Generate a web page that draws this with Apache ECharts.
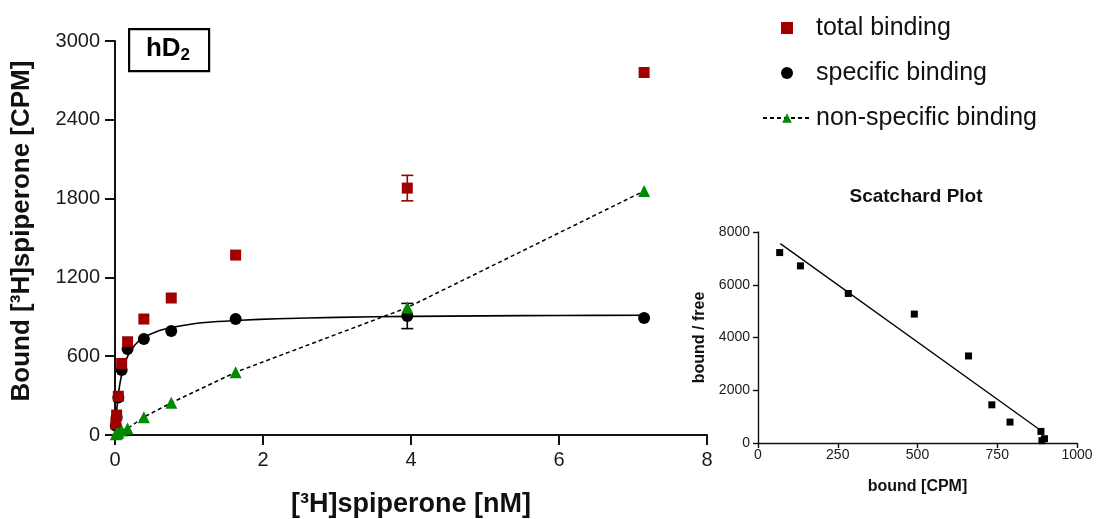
<!DOCTYPE html>
<html><head><meta charset="utf-8">
<script src="https://cdn.jsdelivr.net/npm/echarts@6/dist/echarts.min.js"></script>
<style>html,body{margin:0;padding:0;background:#fff}#c{width:1097px;height:519px}</style>
</head><body><div id="c"></div>
<script>
// ---- main saturation plot data ----
const conc        = [0.011, 0.022, 0.045, 0.09, 0.17, 0.39, 0.76, 1.63, 3.95, 7.15];
const total       = [85, 152, 295, 545, 710, 883, 1043, 1370, 1880, 2760];
const specific    = [70, 135, 285, 495, 655, 731, 792, 883, 906, 890];
const nonspecific = [5, 10, 18, 35, 50, 136, 245, 478, 970, 1858];
const totalErr    = [0, 0, 0, 0, 0, 0, 0, 0, 97, 0];
const specificErr = [0, 0, 0, 0, 0, 0, 0, 0, 96, 0];
// fitted one-site curve for specific binding
const fitX = [0, 0.01, 0.02, 0.04, 0.06, 0.08, 0.1, 0.13, 0.17, 0.22, 0.3, 0.4, 0.55, 0.75, 1.0, 1.3, 1.7, 2.2, 3, 4, 5, 6, 7.15];
const fitY = [0, 90, 168, 285, 368, 432, 482, 540, 598, 648, 704, 745, 785, 816, 842, 860, 874, 885, 896, 903, 907, 910, 912];
const xTicks = [0, 2, 4, 6, 8];
const yTicks = [0, 600, 1200, 1800, 2400, 3000];

// ---- Scatchard inset data ----
const scatBound = [68, 133, 283, 490, 660, 733, 790, 887, 890, 898];
const scatRatio = [7220, 6715, 5670, 4888, 3300, 1448, 794, 439, 87, 163];
const scatFitX  = [70, 880];
const scatFitY  = [7560, 530];
const scatXTicks = [0, 250, 500, 750, 1000];
const scatYTicks = [0, 2000, 4000, 6000, 8000];

const RED = '#A00000', GREEN = '#008A00', INK = '#111111';
const FONT = 'Arial, "Liberation Sans", Helvetica, sans-serif';

const pairs = (xs, ys) => xs.map((x, i) => [x, ys[i]]);
const errData = (vals, errs) => conc.map((x, i) => [x, vals[i] - errs[i], vals[i] + errs[i], errs[i]]).filter(d => d[3] > 0);

function errRender(color) {
  return function (params, api) {
    const x = api.value(0), lo = api.value(1), hi = api.value(2);
    const a = api.coord([x, lo]), b = api.coord([x, hi]);
    const hw = 6, st = { stroke: color, lineWidth: 1.6 };
    return { type: 'group', children: [
      { type: 'line', shape: { x1: a[0], y1: a[1], x2: b[0], y2: b[1] }, style: st },
      { type: 'line', shape: { x1: a[0] - hw, y1: a[1], x2: a[0] + hw, y2: a[1] }, style: st },
      { type: 'line', shape: { x1: b[0] - hw, y1: b[1], x2: b[0] + hw, y2: b[1] }, style: st }
    ]};
  };
}

const axisCommon = (w, tickLen, fs, margin) => ({
  axisLine: { show: true, onZero: false, lineStyle: { color: INK, width: w } },
  axisTick: { show: true, length: tickLen, lineStyle: { color: INK, width: w } },
  axisLabel: { color: '#1a1a1a', fontSize: fs, fontFamily: FONT, margin: margin, formatter: v => String(v) },
  splitLine: { show: false }
});

const chart = echarts.init(document.getElementById('c'), null, { renderer: 'canvas' });
chart.setOption({
  animation: false,
  backgroundColor: '#fff',
  textStyle: { fontFamily: FONT },
  grid: [
    { left: 115, top: 41, width: 592, height: 394, containLabel: false, outerBoundsMode: 'none' },
    { left: 758, top: 232, width: 319, height: 211, containLabel: false, outerBoundsMode: 'none' }
  ],
  xAxis: [
    Object.assign(axisCommon(2, 10, 20, 15), {
      type: 'value', gridIndex: 0, min: xTicks[0], max: xTicks[xTicks.length - 1], interval: xTicks[1] - xTicks[0],
      name: '[³H]spiperone [nM]', nameLocation: 'middle', nameGap: 56,
      nameTextStyle: { fontSize: 27, fontWeight: 'bold', color: INK, fontFamily: FONT }
    }),
    Object.assign(axisCommon(1.4, 5, 14, 5), {
      type: 'value', gridIndex: 1, min: scatXTicks[0], max: scatXTicks[scatXTicks.length - 1], interval: scatXTicks[1] - scatXTicks[0],
      name: 'bound [CPM]', nameLocation: 'middle', nameGap: 36,
      nameTextStyle: { fontSize: 16, fontWeight: 'bold', color: INK, fontFamily: FONT }
    })
  ],
  yAxis: [
    Object.assign(axisCommon(2, 10, 20, 15), {
      type: 'value', gridIndex: 0, min: yTicks[0], max: yTicks[yTicks.length - 1], interval: yTicks[1] - yTicks[0],
      name: 'Bound [³H]spiperone [CPM]', nameLocation: 'middle', nameGap: 80,
      nameTextStyle: { fontSize: 26, fontWeight: 'bold', color: INK, fontFamily: FONT, padding: [0, 0, 0, 14] }
    }),
    Object.assign(axisCommon(1.4, 5, 14, 8), {
      type: 'value', gridIndex: 1, min: scatYTicks[0], max: scatYTicks[scatYTicks.length - 1], interval: scatYTicks[1] - scatYTicks[0],
      name: 'bound / free', nameLocation: 'middle', nameGap: 50,
      nameTextStyle: { fontSize: 16, fontWeight: 'bold', color: INK, fontFamily: FONT }
    })
  ],
  legend: {
    data: [
      { name: 'total binding', icon: 'path://M0,0H10V10H0Z' },
      { name: 'specific binding' },
      { name: 'non-specific binding' }
    ],
    orient: 'vertical', left: 757, top: 10,
    itemWidth: 48, itemHeight: 12, itemGap: 19,
    textStyle: { fontSize: 25, color: INK, fontFamily: FONT, lineHeight: 26 },
    selectedMode: false
  },
  graphic: [
    { type: 'rect', left: 128, top: 28, shape: { width: 80, height: 42 },
      style: { fill: '#fff', stroke: '#000', lineWidth: 2.2 }, z: 10 },
    { type: 'text', x: 168, y: 49, z: 11,
      style: { text: '{a|hD}{b|2}', align: 'center', verticalAlign: 'middle',
        rich: { a: { fontSize: 26, fontWeight: 'bold', fontFamily: FONT, fill: '#000' },
                b: { fontSize: 17, fontWeight: 'bold', fontFamily: FONT, fill: '#000', padding: [12, 0, 0, 0] } } } },
    { type: 'text', x: 916, y: 197, z: 11,
      style: { text: 'Scatchard Plot', align: 'center', verticalAlign: 'middle',
        fontSize: 19, fontWeight: 'bold', fontFamily: FONT, fill: INK } }
  ],
  series: [
    { name: 'specific fit', type: 'line', xAxisIndex: 0, yAxisIndex: 0, data: pairs(fitX, fitY),
      smooth: 0.3, showSymbol: false, symbol: 'none', lineStyle: { color: '#000', width: 1.6 }, z: 2 },
    { name: 'non-specific binding', type: 'line', xAxisIndex: 0, yAxisIndex: 0, data: pairs(conc, nonspecific),
      symbol: 'triangle', symbolSize: 12, showAllSymbol: true, itemStyle: { color: GREEN, opacity: 1 },
      lineStyle: { color: '#000', width: 1.5, type: [4, 3] }, z: 5 },
    { name: 'specific binding', type: 'scatter', xAxisIndex: 0, yAxisIndex: 0, data: pairs(conc, specific),
      symbol: 'circle', symbolSize: 12, itemStyle: { color: '#000', opacity: 1 }, z: 3 },
    { name: 'total binding', type: 'scatter', xAxisIndex: 0, yAxisIndex: 0, data: pairs(conc, total),
      symbol: 'rect', symbolSize: 11, itemStyle: { color: RED, opacity: 1 }, z: 4 },
    { name: 'total err', type: 'custom', xAxisIndex: 0, yAxisIndex: 0, data: errData(total, totalErr),
      encode: { x: 0, y: [1, 2] }, renderItem: errRender(RED), z: 4 },
    { name: 'specific err', type: 'custom', xAxisIndex: 0, yAxisIndex: 0, data: errData(specific, specificErr),
      encode: { x: 0, y: [1, 2] }, renderItem: errRender('#000'), z: 3 },
    { name: 'scatchard fit', type: 'line', xAxisIndex: 1, yAxisIndex: 1, data: pairs(scatFitX, scatFitY),
      symbol: 'none', lineStyle: { color: '#000', width: 1.3 }, z: 2 },
    { name: 'scatchard', type: 'scatter', xAxisIndex: 1, yAxisIndex: 1, data: pairs(scatBound, scatRatio),
      symbol: 'rect', symbolSize: 7, itemStyle: { color: '#000', opacity: 1 }, z: 3 }
  ]
});
</script>
</body></html>
